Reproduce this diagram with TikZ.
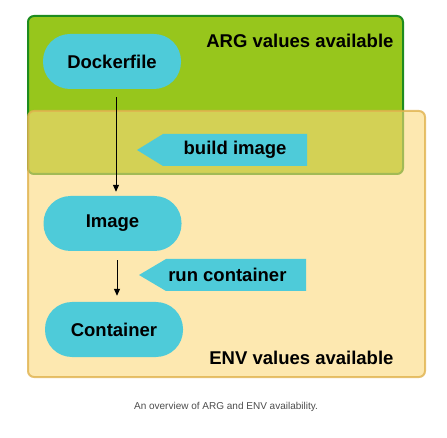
\documentclass[tikz,border=0pt]{standalone}
\usepackage{fontspec}
\setmainfont{Liberation Sans}
\usetikzlibrary{calc,arrows.meta}

\definecolor{argfill}{HTML}{97C61C}
\definecolor{argline}{HTML}{1E8C1E}
\definecolor{envfill}{HTML}{FBD97B}
\definecolor{envline}{HTML}{E0B24E}
\definecolor{pillblue}{HTML}{4ECBD9}

\begin{document}
\begin{tikzpicture}[x=1pt, y=-1pt,
        pill/.style={fill=pillblue, rounded corners=27pt, minimum width=138pt, minimum height=55pt, inner sep=0pt},
        big/.style={font=\bfseries\fontsize{18.5}{18.5}\selectfont},
        flow/.style={-{Triangle[length=7pt,width=6pt]}, line width=1pt}]

        \def\boxthick{2pt}

        \useasboundingbox (0, 0) rectangle (447, 438);

        % boxes
        \draw[argline, fill=argfill, line width=\boxthick, rounded corners=6pt] (28, 16) rectangle (403, 174);
        \draw[envline, fill=envfill, fill opacity=0.6, draw opacity=0.8, line width=\boxthick, rounded corners=6pt] (28, 111) rectangle (425, 377);

        \node[big, anchor=east] (arg) at (397, 41) {ARG values available};
        \node[big, anchor=east] (env) at (397, 358) {ENV values available};

        % pills
        \node[pill, big] (docker) at (112, 61.5) {Dockerfile};
        \node[pill, big] (image) at (112.5, 223.5) {Image};
        \node[pill, big] (container) at (114, 329.5) {Container};

        % tags
        \coordinate (buildtip) at (137, 150);
        \coordinate (runtip) at (139, 275);
        \fill[pillblue] (buildtip) -- ++(26, -16) -- (307, 134) -- (307, 166) -- (163, 166) -- cycle;
        \fill[pillblue] (runtip) -- ++(27, -16) -- (306, 259) -- (306, 291) -- (166, 291) -- cycle;
        \node[big, anchor=east] (build) at (290, 150) {build image};
        \node[big, anchor=east] (run) at (290, 275) {run container};

        % arrows
        \draw[flow] ([xshift=4pt, yshift=-8pt]docker.south) -- ([xshift=3.5pt, yshift=4pt]image.north);
        \draw[flow] ([xshift=4.5pt, yshift=-9pt]image.south) -- ([xshift=3pt, yshift=6pt]container.north);

        \node[text=black!70, font=\fontsize{10}{12}\selectfont] (caption) at (226, 407) {An overview of ARG and ENV availability.};

    \end{tikzpicture}
\end{document}
